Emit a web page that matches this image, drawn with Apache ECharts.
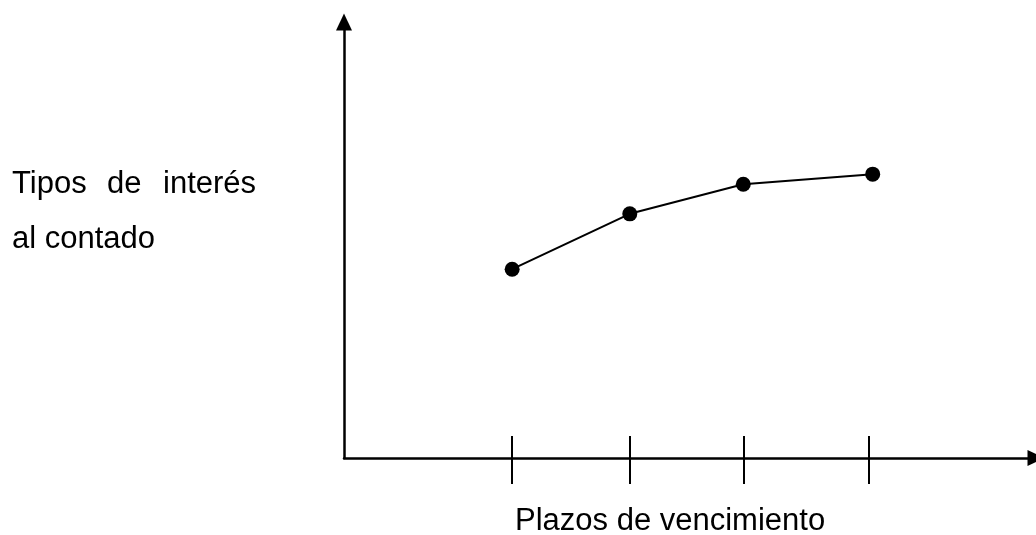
<!DOCTYPE html>
<html>
<head>
<meta charset="utf-8">
<script src="https://cdn.jsdelivr.net/npm/echarts@6/dist/echarts.min.js"></script>
<style>
html,body{margin:0;padding:0;background:#fff;}
#main{width:1036px;height:535px;}
</style>
</head>
<body>
<div id="main"></div>
<script>
// plazos (posicion en el eje) y tipos de interes
var plazos = [24.3, 41.3, 57.7, 76.4];
var tipos = [43.3, 56.0, 62.8, 65.1];
var marcas = [24.3, 41.3, 57.7, 75.8];

var puntos = [];
for (var i = 0; i < plazos.length; i++) {
	puntos.push([plazos[i], tipos[i]]);
}

var chart = echarts.init(document.getElementById('main'));
var fuente = 'Liberation Sans, Arial, sans-serif';

var option = {
	animation: false,
	backgroundColor: '#fff',
	grid: {left: 344, right: -3, top: 22, bottom: 77},
	xAxis: [{
		type: 'value', min: 0, max: 100,
		splitLine: {show: false},
		axisLabel: {show: false},
		axisLine: {show: true, symbol: ['none', 'triangle'], symbolSize: [16, 17],
			lineStyle: {color: '#000', width: 2.5}},
		axisTick: {show: true, inside: false, length: 26, customValues: marcas,
			lineStyle: {color: '#000', width: 2}}
	}, {
		type: 'value', min: 0, max: 100, position: 'bottom',
		splitLine: {show: false},
		axisLabel: {show: false},
		axisLine: {show: false},
		axisTick: {show: true, inside: true, length: 22, customValues: marcas,
			lineStyle: {color: '#000', width: 2}}
	}],
	yAxis: {
		type: 'value', min: 0, max: 100,
		splitLine: {show: false},
		axisLabel: {show: false},
		axisTick: {show: false},
		axisLine: {show: true, symbol: ['none', 'triangle'], symbolSize: [16, 17],
			lineStyle: {color: '#000', width: 2.5}}
	},
	graphic: [
		{type: 'text', left: 12, top: 169, style: {text: 'Tipos', font: '31px ' + fuente, fill: '#000'}},
		{type: 'text', left: 107, top: 169, style: {text: 'de', font: '31px ' + fuente, fill: '#000'}},
		{type: 'text', left: 163, top: 169, style: {text: 'interés', font: '31px ' + fuente, fill: '#000'}},
		{type: 'text', left: 12, top: 224, style: {text: 'al contado', font: '31px ' + fuente, fill: '#000'}},
		{type: 'text', left: 515, top: 506, style: {text: 'Plazos de vencimiento', font: '31px ' + fuente, fill: '#000'}}
	],
	series: [{
		type: 'line',
		data: puntos,
		symbol: 'circle',
		symbolSize: 15,
		itemStyle: {color: '#000'},
		lineStyle: {color: '#000', width: 2}
	}]
};
chart.setOption(option);
</script>
</body>
</html>
